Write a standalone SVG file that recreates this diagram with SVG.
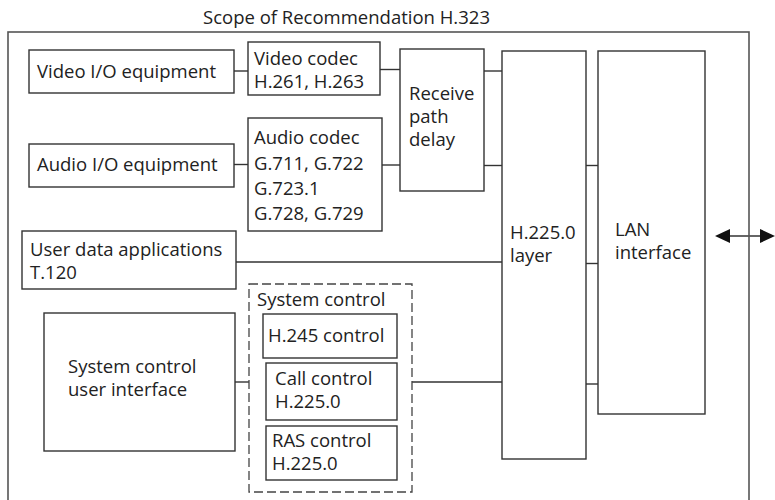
<svg xmlns="http://www.w3.org/2000/svg" width="775" height="500" viewBox="0 0 775 500">
<style>
  .box{fill:#fff;stroke:#333;stroke-width:1.4}
  .dash{fill:none;stroke:#444;stroke-width:1.3;stroke-dasharray:9 4}
  .frame{fill:none;stroke:#555;stroke-width:1.6}
  .t{font-family:"Open Sans","Noto Sans","DejaVu Sans",sans-serif;font-size:18.5px;fill:#222}
  .c line{stroke:#333;stroke-width:1.4}
  .arr{stroke:#111;stroke-width:2.8}
</style>
<defs>
  <marker id="ah" markerUnits="userSpaceOnUse" markerWidth="16" markerHeight="16" refX="5" refY="7" orient="auto-start-reverse">
    <path d="M0,0 L15,7 L0,14 Z" fill="#111"/>
  </marker>
</defs>
<rect width="775" height="500" fill="#fff"/>
<g id="connectors" class="c">
  <line x1="234" y1="71" x2="248" y2="71"/>
  <line x1="380" y1="69.5" x2="400" y2="69.5"/>
  <line x1="234" y1="164.5" x2="248" y2="164.5"/>
  <line x1="382" y1="165" x2="400" y2="165"/>
  <line x1="484" y1="71" x2="502" y2="71"/>
  <line x1="484" y1="165.5" x2="502" y2="165.5"/>
  <line x1="236" y1="262" x2="502" y2="262"/>
  <line x1="235" y1="382" x2="249" y2="382"/>
  <line x1="412" y1="382" x2="502" y2="382"/>
  <line x1="586" y1="165.5" x2="598" y2="165.5"/>
  <line x1="586" y1="263.5" x2="598" y2="263.5"/>
  <line x1="586" y1="384" x2="598" y2="384"/>
  <line class="arr" x1="725" y1="236" x2="765" y2="236" marker-start="url(#ah)" marker-end="url(#ah)"/>
</g>
<g id="scope">
  <rect class="frame" x="8" y="32" width="741" height="480"/>
  <text class="t" x="203" y="24">Scope of Recommendation H.323</text>
</g>
<g id="video-io">
  <rect class="box" x="29" y="50" width="205" height="43"/>
  <text class="t" x="37" y="78">Video I/O equipment</text>
</g>
<g id="video-codec">
  <rect class="box" x="248" y="42" width="132" height="53"/>
  <text class="t" x="254" y="65">Video codec</text>
  <text class="t" x="254" y="88">H.261, H.263</text>
</g>
<g id="audio-io">
  <rect class="box" x="29" y="144" width="205" height="43"/>
  <text class="t" x="37" y="171">Audio I/O equipment</text>
</g>
<g id="audio-codec">
  <rect class="box" x="248" y="118" width="134" height="113"/>
  <text class="t" x="254" y="144">Audio codec</text>
  <text class="t" x="254" y="170">G.711, G.722</text>
  <text class="t" x="254" y="195">G.723.1</text>
  <text class="t" x="254" y="220">G.728, G.729</text>
</g>
<g id="receive-delay">
  <rect class="box" x="400" y="49" width="84" height="142"/>
  <text class="t" x="409" y="100">Receive</text>
  <text class="t" x="409" y="123">path</text>
  <text class="t" x="409" y="146">delay</text>
</g>
<g id="h225-layer">
  <rect class="box" x="502" y="51" width="84" height="408"/>
  <text class="t" x="510" y="239">H.225.0</text>
  <text class="t" x="510" y="262">layer</text>
</g>
<g id="lan-interface">
  <rect class="box" x="598" y="51" width="107" height="363"/>
  <text class="t" x="615" y="236">LAN</text>
  <text class="t" x="615" y="259">interface</text>
</g>
<g id="user-data">
  <rect class="box" x="22" y="231" width="214" height="58"/>
  <text class="t" x="30" y="256">User data applications</text>
  <text class="t" x="30" y="279">T.120</text>
</g>
<g id="sc-ui">
  <rect class="box" x="44" y="313" width="191" height="138"/>
  <text class="t" x="68" y="373">System control</text>
  <text class="t" x="68" y="396">user interface</text>
</g>
<g id="system-control">
  <rect class="dash" x="249" y="284" width="163" height="208"/>
  <text class="t" x="257" y="306">System control</text>
</g>
<g id="h245">
  <rect class="box" x="263" y="314" width="134" height="44"/>
  <text class="t" x="268" y="342">H.245 control</text>
</g>
<g id="call-control">
  <rect class="box" x="266" y="363" width="131" height="57"/>
  <text class="t" x="275" y="385">Call control</text>
  <text class="t" x="275" y="408">H.225.0</text>
</g>
<g id="ras-control">
  <rect class="box" x="266" y="426" width="131" height="54"/>
  <text class="t" x="272" y="447">RAS control</text>
  <text class="t" x="272" y="470">H.225.0</text>
</g>
</svg>
